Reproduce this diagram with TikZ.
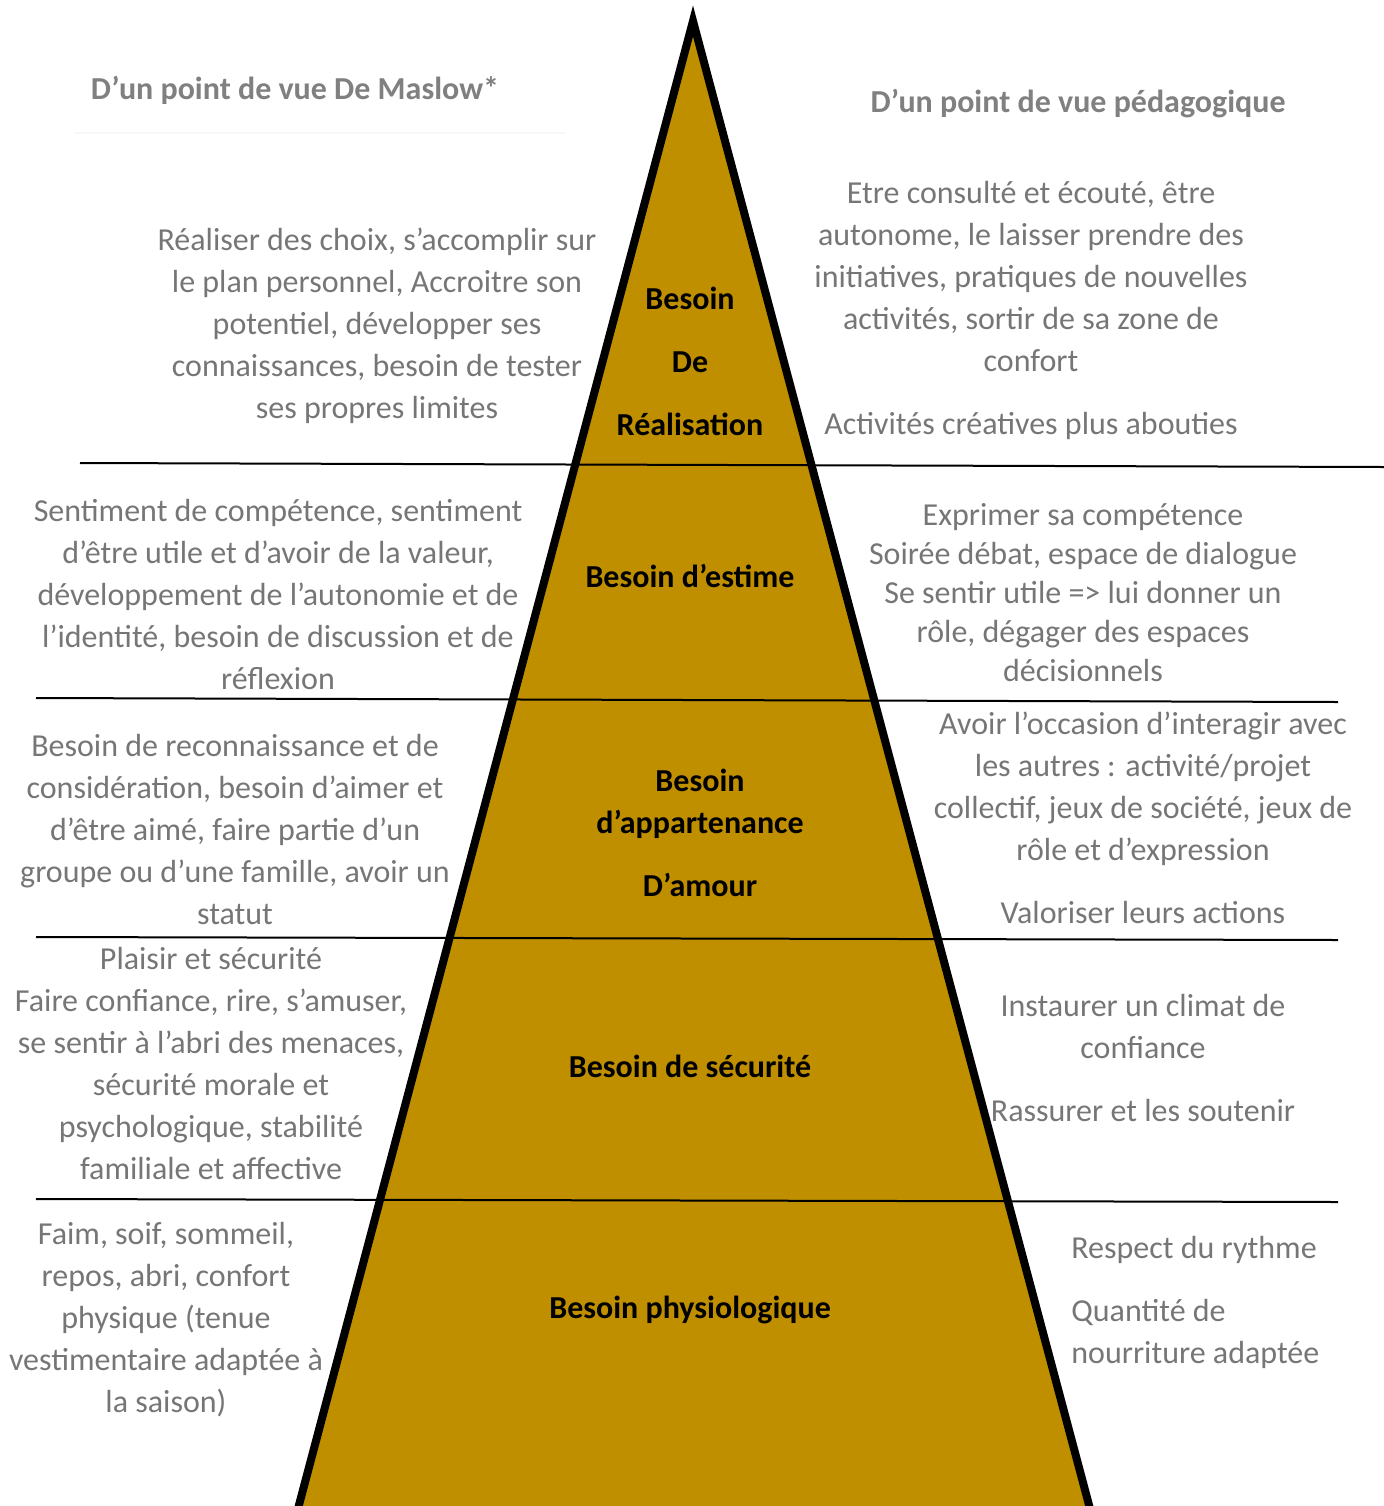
\documentclass[tikz,border=0pt]{standalone}
\usepackage{fontspec}
\setmainfont{Carlito}
\usepackage{tikz}

\definecolor{gold}{HTML}{BF8F00}
\definecolor{txtgray}{HTML}{767676}
\definecolor{hdrgray}{HTML}{808080}

\begin{document}
\begin{tikzpicture}[x=0.5pt, y=-0.5pt,
  maslow/.style={align=center, inner sep=0pt, anchor=north, text=txtgray,
                 font=\fontsize{16pt}{21pt}\selectfont},
  peda/.style={maslow},
  besoin/.style={align=center, inner sep=0pt, font=\fontsize{16pt}{21pt}\selectfont\bfseries},
  titre/.style={inner sep=0pt, text=hdrgray, font=\fontsize{16pt}{18pt}\selectfont\bfseries},
  sep/.style={line width=1pt, black}
]
\useasboundingbox (0,0) rectangle (1384,1506);
\clip (0,0) rectangle (1384,1506);

%% Pyramid
\fill[gold] (693,21) -- (1093,1520) -- (295,1520) -- cycle;

%% Level separators
\draw[sep] (80,463) -- (1384,467);
\draw[sep] (36,698) -- (1338,702);
\draw[sep] (36,937) -- (1338,940);
\draw[sep] (36,1199) -- (1338,1202);
\draw[black!3, line width=1pt] (75,133) -- (565,133);

\draw[line width=4pt, line join=miter] (693,21) -- (1093,1520) -- (295,1520) -- cycle;

%% Column titles
\node[titre] (tmaslow) at (295,90)  {D’un point de vue De Maslow*};
\node[titre] (tpeda)   at (1078,104) {D’un point de vue pédagogique};

%% Level 5 -- réalisation
\node[besoin, anchor=north] (b5) at (690,287)
  {Besoin\\[10.5pt]De\\[10.5pt]Réalisation};
\node[maslow] (m5) at (377,228) {Réaliser des choix, s’accomplir sur\\le plan personnel, Accroitre son\\potentiel, développer ses\\connaissances, besoin de tester\\ses propres limites};
\node[peda] (p5) at (1031,181) {Etre consulté et écouté, être\\autonome, le laisser prendre des\\initiatives, pratiques de nouvelles\\activités, sortir de sa zone de\\confort\\[10.5pt]Activités créatives plus abouties};

%% Level 4 -- estime
\node[besoin] (b4) at (690,576) {Besoin d’estime};
\node[maslow] (m4) at (278,499) {Sentiment de compétence, sentiment\\d’être utile et d’avoir de la valeur,\\développement de l’autonomie et de\\l’identité, besoin de discussion et de\\réflexion};
\node[peda, font=\fontsize{16pt}{19.5pt}\selectfont] (p4) at (1083,503) {Exprimer sa compétence\\Soirée débat, espace de dialogue\\Se sentir utile => lui donner un\\rôle, dégager des espaces\\décisionnels};

%% Level 3 -- appartenance
\node[besoin, anchor=north] (b3) at (700,769) {Besoin\\d’appartenance\\[10.5pt]D’amour};
\node[maslow] (m3) at (235,734) {Besoin de reconnaissance et de\\considération, besoin d’aimer et\\d’être aimé, faire partie d’un\\groupe ou d’une famille, avoir un\\statut};
\node[peda] (p3) at (1143,712) {Avoir l’occasion d’interagir avec\\les autres : activité/projet\\collectif, jeux de société, jeux de\\rôle et d’expression\\[10.5pt]Valoriser leurs actions};

%% Level 2 -- sécurité
\node[besoin] (b2) at (690,1066) {Besoin de sécurité};
\node[maslow] (m2) at (211,947) {Plaisir et sécurité\\Faire confiance, rire, s’amuser,\\se sentir à l’abri des menaces,\\sécurité morale et\\psychologique, stabilité\\familiale et affective};
\node[peda] (p2) at (1143,994) {Instaurer un climat de\\confiance\\[10.5pt]Rassurer et les soutenir};

%% Level 1 -- physiologique
\node[besoin] (b1) at (690,1310) {Besoin physiologique};
\node[maslow] (m1) at (166,1222) {Faim, soif, sommeil,\\repos, abri, confort\\physique (tenue\\vestimentaire adaptée à\\la saison)};
\node[peda, align=left, anchor=north west] (p1) at (1071,1236) {Respect du rythme\\[10.5pt]Quantité de\\nourriture adaptée};
\end{tikzpicture}
\end{document}
